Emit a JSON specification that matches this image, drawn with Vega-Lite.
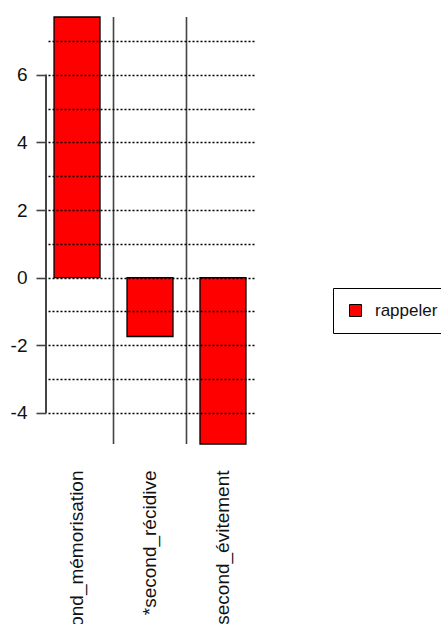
{
  "$schema": "https://vega.github.io/schema/vega-lite/v6.json",
  "autosize": {"type": "none"},
  "padding": {"left": 46, "top": 17, "right": 187, "bottom": 180},
  "width": 208,
  "height": 427,
  "background": "white",
  "config": {
    "view": {"stroke": null},
    "font": "Liberation Sans"
  },
  "data": {
    "values": [
      {"variable": "second_mémorisation", "valeur": 7.71, "groupe": "rappeler"},
      {"variable": "*second_récidive", "valeur": -1.74, "groupe": "rappeler"},
      {"variable": "second_évitement", "valeur": -4.92, "groupe": "rappeler"}
    ]
  },
  "encoding": {
    "x": {
      "field": "variable",
      "type": "nominal",
      "sort": null,
      "scale": {"paddingInner": 0.37, "paddingOuter": 0.11},
      "axis": {
        "title": null,
        "domain": false,
        "ticks": false,
        "labelAngle": -90,
        "labelAlign": "right",
        "labelBaseline": "middle",
        "labelPadding": 26,
        "labelFontSize": 19,
        "labelColor": "#111",
        "labelFont": "Liberation Sans",
        "labelLimit": 0
      }
    }
  },
  "resolve": {"axis": {"y": "independent"}},
  "layer": [
    {
      "mark": {"type": "bar", "stroke": "black", "strokeWidth": 1.3},
      "encoding": {
        "y": {
          "field": "valeur",
          "type": "quantitative",
          "scale": {"domain": [-4.92, 7.71], "nice": false, "zero": false},
          "axis": {
            "title": null,
            "orient": "left",
            "values": [-4, -2, 0, 2, 4, 6],
            "domain": false,
            "grid": false,
            "tickSize": 10,
            "tickWidth": 1.6,
            "tickColor": "#444",
            "labelExpr": "'' + datum.value",
            "labelPadding": 9,
            "labelFontSize": 19,
            "labelColor": "#111",
            "labelFont": "Liberation Sans"
          }
        },
        "color": {
          "field": "groupe",
          "type": "nominal",
          "scale": {"domain": ["rappeler"], "range": ["#FF0000"]},
          "legend": {
            "title": null,
            "orient": "none",
            "legendX": 287,
            "legendY": 271,
            "strokeColor": "black",
            "padding": 14,
            "symbolType": "square",
            "symbolSize": 144,
            "symbolStrokeColor": "black",
            "symbolStrokeWidth": 1,
            "symbolOpacity": 1,
            "labelFontSize": 17,
            "labelFont": "Liberation Sans",
            "labelColor": "#111",
            "labelOffset": 11
          }
        }
      }
    },
    {
      "transform": [{"filter": "datum.variable !== 'second_évitement'"}],
      "mark": {"type": "rule", "color": "#444", "strokeWidth": 1.6, "xOffset": 13.5},
      "encoding": {
        "x": {"field": "variable", "type": "nominal", "sort": null, "bandPosition": 1}
      }
    },
    {
      "mark": {"type": "rule", "color": "#444", "strokeWidth": 1.6, "xOffset": -8},
      "encoding": {
        "x": {"datum": "second_mémorisation", "type": "nominal", "bandPosition": 0},
        "y": {
          "datum": -4,
          "type": "quantitative",
          "axis": {
            "title": null,
            "orient": "right",
            "values": [-4, -3, -2, -1, 0, 1, 2, 3, 4, 5, 6, 7],
            "domain": false,
            "ticks": false,
            "labels": false,
            "grid": true,
            "gridColor": "black",
            "gridDash": [2, 2],
            "gridWidth": 1.6,
            "gridOpacity": 1,
            "zindex": 1,
            "minExtent": 0,
            "maxExtent": 0
          }
        },
        "y2": {"datum": 6}
      }
    }
  ]
}
